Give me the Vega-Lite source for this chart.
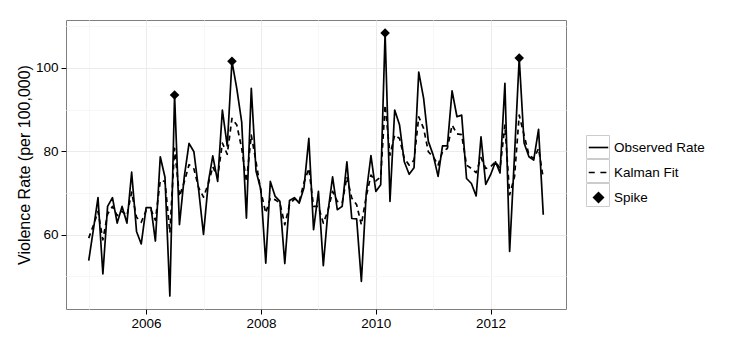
{
  "$schema": "https://vega.github.io/schema/vega-lite/v6.json",
  "width": 500,
  "height": 289,
  "autosize": {"type": "none"},
  "padding": {"left": 66, "top": 20, "right": 181, "bottom": 53},
  "background": "white",
  "config": {
    "font": "Liberation Sans",
    "view": {"stroke": "#7f7f7f", "strokeWidth": 1},
    "axis": {
      "domain": false,
      "labelFont": "Liberation Sans",
      "labelFontSize": 13.5,
      "labelColor": "#000000",
      "tickColor": "#000000",
      "tickWidth": 1,
      "titleFont": "Liberation Sans",
      "titleFontSize": 16,
      "titleFontWeight": "normal",
      "titleColor": "#000000",
      "labelOverlap": false,
      "labelFlush": false
    },
    "legend": {"padding": 0, "rowPadding": 0, "labelFont": "Liberation Sans", "labelFontSize": 13.5, "labelColor": "#000000"}
  },
  "data": {
    "values": [
      {"date": "2005-01-01", "rate": 53.8, "fit": 59.2, "spike": false},
      {"date": "2005-02-01", "rate": 61.6, "fit": 62.4, "spike": false},
      {"date": "2005-03-01", "rate": 68.9, "fit": 65.6, "spike": false},
      {"date": "2005-04-01", "rate": 50.6, "fit": 58.8, "spike": false},
      {"date": "2005-05-01", "rate": 66.8, "fit": 65.0, "spike": false},
      {"date": "2005-06-01", "rate": 68.9, "fit": 66.8, "spike": false},
      {"date": "2005-07-01", "rate": 62.8, "fit": 64.6, "spike": false},
      {"date": "2005-08-01", "rate": 66.8, "fit": 65.6, "spike": false},
      {"date": "2005-09-01", "rate": 62.8, "fit": 64.6, "spike": false},
      {"date": "2005-10-01", "rate": 75.0, "fit": 70.2, "spike": false},
      {"date": "2005-11-01", "rate": 60.8, "fit": 64.2, "spike": false},
      {"date": "2005-12-01", "rate": 57.8, "fit": 63.0, "spike": false},
      {"date": "2006-01-01", "rate": 66.5, "fit": 65.8, "spike": false},
      {"date": "2006-02-01", "rate": 66.5, "fit": 66.0, "spike": false},
      {"date": "2006-03-01", "rate": 58.5, "fit": 63.5, "spike": false},
      {"date": "2006-04-01", "rate": 78.7, "fit": 73.0, "spike": false},
      {"date": "2006-05-01", "rate": 73.8, "fit": 72.8, "spike": false},
      {"date": "2006-06-01", "rate": 45.3, "fit": 60.5, "spike": false},
      {"date": "2006-07-01", "rate": 93.5, "fit": 80.7, "spike": true},
      {"date": "2006-08-01", "rate": 62.4, "fit": 69.2, "spike": false},
      {"date": "2006-09-01", "rate": 74.0, "fit": 72.7, "spike": false},
      {"date": "2006-10-01", "rate": 81.9, "fit": 76.8, "spike": false},
      {"date": "2006-11-01", "rate": 79.9, "fit": 75.8, "spike": false},
      {"date": "2006-12-01", "rate": 70.8, "fit": 71.3, "spike": false},
      {"date": "2007-01-01", "rate": 60.1, "fit": 69.0, "spike": false},
      {"date": "2007-02-01", "rate": 72.7, "fit": 72.3, "spike": false},
      {"date": "2007-03-01", "rate": 78.9, "fit": 76.3, "spike": false},
      {"date": "2007-04-01", "rate": 72.8, "fit": 73.8, "spike": false},
      {"date": "2007-05-01", "rate": 89.9, "fit": 82.0, "spike": false},
      {"date": "2007-06-01", "rate": 81.3, "fit": 79.3, "spike": false},
      {"date": "2007-07-01", "rate": 101.6, "fit": 87.9, "spike": true},
      {"date": "2007-08-01", "rate": 95.0, "fit": 86.3, "spike": false},
      {"date": "2007-09-01", "rate": 87.0, "fit": 80.7, "spike": false},
      {"date": "2007-10-01", "rate": 64.0, "fit": 72.7, "spike": false},
      {"date": "2007-11-01", "rate": 95.1, "fit": 83.9, "spike": false},
      {"date": "2007-12-01", "rate": 75.3, "fit": 77.5, "spike": false},
      {"date": "2008-01-01", "rate": 70.8, "fit": 70.4, "spike": false},
      {"date": "2008-02-01", "rate": 53.2, "fit": 65.2, "spike": false},
      {"date": "2008-03-01", "rate": 72.8, "fit": 68.8, "spike": false},
      {"date": "2008-04-01", "rate": 69.2, "fit": 68.4, "spike": false},
      {"date": "2008-05-01", "rate": 68.0, "fit": 67.6, "spike": false},
      {"date": "2008-06-01", "rate": 53.1, "fit": 62.4, "spike": false},
      {"date": "2008-07-01", "rate": 68.2, "fit": 67.2, "spike": false},
      {"date": "2008-08-01", "rate": 68.9, "fit": 68.6, "spike": false},
      {"date": "2008-09-01", "rate": 67.6, "fit": 68.0, "spike": false},
      {"date": "2008-10-01", "rate": 71.3, "fit": 72.5, "spike": false},
      {"date": "2008-11-01", "rate": 83.1, "fit": 75.9, "spike": false},
      {"date": "2008-12-01", "rate": 61.2, "fit": 66.8, "spike": false},
      {"date": "2009-01-01", "rate": 70.4, "fit": 66.8, "spike": false},
      {"date": "2009-02-01", "rate": 52.6, "fit": 62.8, "spike": false},
      {"date": "2009-03-01", "rate": 65.0, "fit": 65.6, "spike": false},
      {"date": "2009-04-01", "rate": 73.9, "fit": 70.4, "spike": false},
      {"date": "2009-05-01", "rate": 66.0, "fit": 68.0, "spike": false},
      {"date": "2009-06-01", "rate": 66.8, "fit": 67.6, "spike": false},
      {"date": "2009-07-01", "rate": 77.5, "fit": 73.9, "spike": false},
      {"date": "2009-08-01", "rate": 63.9, "fit": 68.8, "spike": false},
      {"date": "2009-09-01", "rate": 63.8, "fit": 67.2, "spike": false},
      {"date": "2009-10-01", "rate": 48.8, "fit": 62.4, "spike": false},
      {"date": "2009-11-01", "rate": 70.0, "fit": 69.2, "spike": false},
      {"date": "2009-12-01", "rate": 79.0, "fit": 74.3, "spike": false},
      {"date": "2010-01-01", "rate": 70.4, "fit": 72.9, "spike": false},
      {"date": "2010-02-01", "rate": 72.0, "fit": 73.9, "spike": false},
      {"date": "2010-03-01", "rate": 108.4, "fit": 91.1, "spike": true},
      {"date": "2010-04-01", "rate": 68.0, "fit": 79.1, "spike": false},
      {"date": "2010-05-01", "rate": 89.9, "fit": 83.9, "spike": false},
      {"date": "2010-06-01", "rate": 86.3, "fit": 83.1, "spike": false},
      {"date": "2010-07-01", "rate": 77.5, "fit": 78.3, "spike": false},
      {"date": "2010-08-01", "rate": 74.5, "fit": 76.7, "spike": false},
      {"date": "2010-09-01", "rate": 76.1, "fit": 77.9, "spike": false},
      {"date": "2010-10-01", "rate": 99.0, "fit": 88.3, "spike": false},
      {"date": "2010-11-01", "rate": 92.7, "fit": 85.5, "spike": false},
      {"date": "2010-12-01", "rate": 82.4, "fit": 79.9, "spike": false},
      {"date": "2011-01-01", "rate": 79.1, "fit": 78.7, "spike": false},
      {"date": "2011-02-01", "rate": 74.0, "fit": 76.7, "spike": false},
      {"date": "2011-03-01", "rate": 81.3, "fit": 79.9, "spike": false},
      {"date": "2011-04-01", "rate": 81.3, "fit": 80.7, "spike": false},
      {"date": "2011-05-01", "rate": 94.5, "fit": 86.3, "spike": false},
      {"date": "2011-06-01", "rate": 88.3, "fit": 84.2, "spike": false},
      {"date": "2011-07-01", "rate": 88.7, "fit": 84.0, "spike": false},
      {"date": "2011-08-01", "rate": 73.5, "fit": 76.7, "spike": false},
      {"date": "2011-09-01", "rate": 72.3, "fit": 75.9, "spike": false},
      {"date": "2011-10-01", "rate": 69.3, "fit": 74.9, "spike": false},
      {"date": "2011-11-01", "rate": 83.5, "fit": 78.5, "spike": false},
      {"date": "2011-12-01", "rate": 72.1, "fit": 75.9, "spike": false},
      {"date": "2012-01-01", "rate": 74.4, "fit": 76.3, "spike": false},
      {"date": "2012-02-01", "rate": 77.5, "fit": 77.5, "spike": false},
      {"date": "2012-03-01", "rate": 74.8, "fit": 75.9, "spike": false},
      {"date": "2012-04-01", "rate": 96.3, "fit": 86.3, "spike": false},
      {"date": "2012-05-01", "rate": 56.0, "fit": 69.6, "spike": false},
      {"date": "2012-06-01", "rate": 79.0, "fit": 73.9, "spike": false},
      {"date": "2012-07-01", "rate": 102.4, "fit": 88.7, "spike": true},
      {"date": "2012-08-01", "rate": 82.0, "fit": 83.9, "spike": false},
      {"date": "2012-09-01", "rate": 78.7, "fit": 79.1, "spike": false},
      {"date": "2012-10-01", "rate": 77.9, "fit": 78.3, "spike": false},
      {"date": "2012-11-01", "rate": 85.3, "fit": 80.7, "spike": false},
      {"date": "2012-12-01", "rate": 64.8, "fit": 73.5, "spike": false}
    ]
  },
  "encoding": {
    "x": {
      "field": "date",
      "type": "temporal",
      "scale": {
        "type": "utc",
        "domain": [
          {"year": 2004, "month": 8, "date": 9, "hours": 11, "utc": true},
          {"year": 2013, "month": 4, "date": 24, "hours": 13, "utc": true}
        ]
      },
      "axis": {
        "title": null,
        "values": [
          {"year": 2005, "month": 1, "date": 1, "utc": true},
          {"year": 2006, "month": 1, "date": 1, "utc": true},
          {"year": 2007, "month": 1, "date": 1, "utc": true},
          {"year": 2008, "month": 1, "date": 1, "utc": true},
          {"year": 2009, "month": 1, "date": 1, "utc": true},
          {"year": 2010, "month": 1, "date": 1, "utc": true},
          {"year": 2011, "month": 1, "date": 1, "utc": true},
          {"year": 2012, "month": 1, "date": 1, "utc": true}
        ],
        "format": "%Y",
        "labelExpr": "utcyear(datum.value) % 2 == 0 ? datum.label : ''",
        "labelPadding": 2,
        "tickSize": {"condition": {"test": "utcyear(datum.value) % 2 == 0", "value": 5}, "value": 0},
        "gridColor": {"condition": {"test": "utcyear(datum.value) % 2 == 0", "value": "#ebebeb"}, "value": "#f7f7f7"},
        "gridWidth": 1
      }
    }
  },
  "layer": [
    {
      "mark": {"type": "line", "color": "black", "strokeWidth": 1.7, "strokeJoin": "round"},
      "encoding": {
        "y": {
          "field": "rate",
          "type": "quantitative",
          "scale": {"domain": [42.2, 111.5], "nice": false, "zero": false},
          "axis": {
            "title": "Violence Rate (per 100,000)",
            "titlePadding": 3,
            "values": [50, 60, 70, 80, 90, 100, 110],
            "labelExpr": "datum.value % 20 == 0 ? datum.label : ''",
            "labelPadding": 3,
            "tickSize": {"condition": {"test": "datum.value % 20 == 0", "value": 5}, "value": 0},
            "gridColor": {"condition": {"test": "datum.value % 20 == 0", "value": "#ebebeb"}, "value": "#f7f7f7"},
            "gridWidth": 1
          }
        },
        "opacity": {
          "datum": "Observed Rate",
          "type": "nominal",
          "scale": {"domain": ["Observed Rate", "Kalman Fit key", "Spike key"], "range": [1, 1]},
          "legend": {
            "title": null,
            "orient": "none",
            "legendX": 520,
            "legendY": 115,
            "rowPadding": 0,
            "symbolType": "square",
            "symbolSize": 529,
            "symbolFillColor": "transparent",
            "symbolStrokeColor": "#cccccc",
            "symbolStrokeWidth": 1,
            "labelOpacity": 0,
            "labelFontSize": 1,
            "labelOffset": 3,
            "zindex": 0,
            "encode": {"symbols": {"update": {"fill": {"value": "transparent"}, "stroke": {"value": "#cccccc"}, "strokeWidth": {"value": 1}, "strokeJoin": {"value": "round"}, "opacity": {"value": 1}}}}
          }
        }
      }
    },
    {
      "mark": {"type": "line", "color": "black", "strokeWidth": 1.7, "strokeDash": [5, 4], "strokeJoin": "round"},
      "encoding": {
        "y": {"field": "fit", "type": "quantitative"}
      }
    },
    {
      "transform": [{"filter": "datum.spike"}],
      "mark": {"type": "point", "filled": true, "color": "black", "size": 400, "opacity": 1},
      "encoding": {
        "y": {"field": "rate", "type": "quantitative"},
        "shape": {
          "datum": "Spike",
          "type": "nominal",
          "scale": {
            "domain": ["Observed Rate", "Kalman Fit", "Spike"],
            "range": [
              "M-1,-1M1,1M-0.78,-0.066H0.78V0.066H-0.78Z",
              "M-1,-1M1,1M-0.78,-0.066H-0.3V0.066H-0.78ZM0.15,-0.066H0.63V0.066H0.15Z",
              "M-1,-1M1,1M0,-0.48L0.48,0L0,0.48L-0.48,0Z"
            ]
          },
          "legend": {
            "title": null,
            "orient": "none",
            "legendX": 520,
            "legendY": 115,
            "rowPadding": 0,
            "symbolSize": 625,
            "symbolFillColor": "black",
            "symbolStrokeColor": "black",
            "symbolStrokeWidth": 0,
            "labelOffset": 3,
            "zindex": 1,
            "encode": {"symbols": {"update": {"fill": {"value": "black"}, "opacity": {"value": 1}}}}
          }
        }
      }
    }
  ]
}
